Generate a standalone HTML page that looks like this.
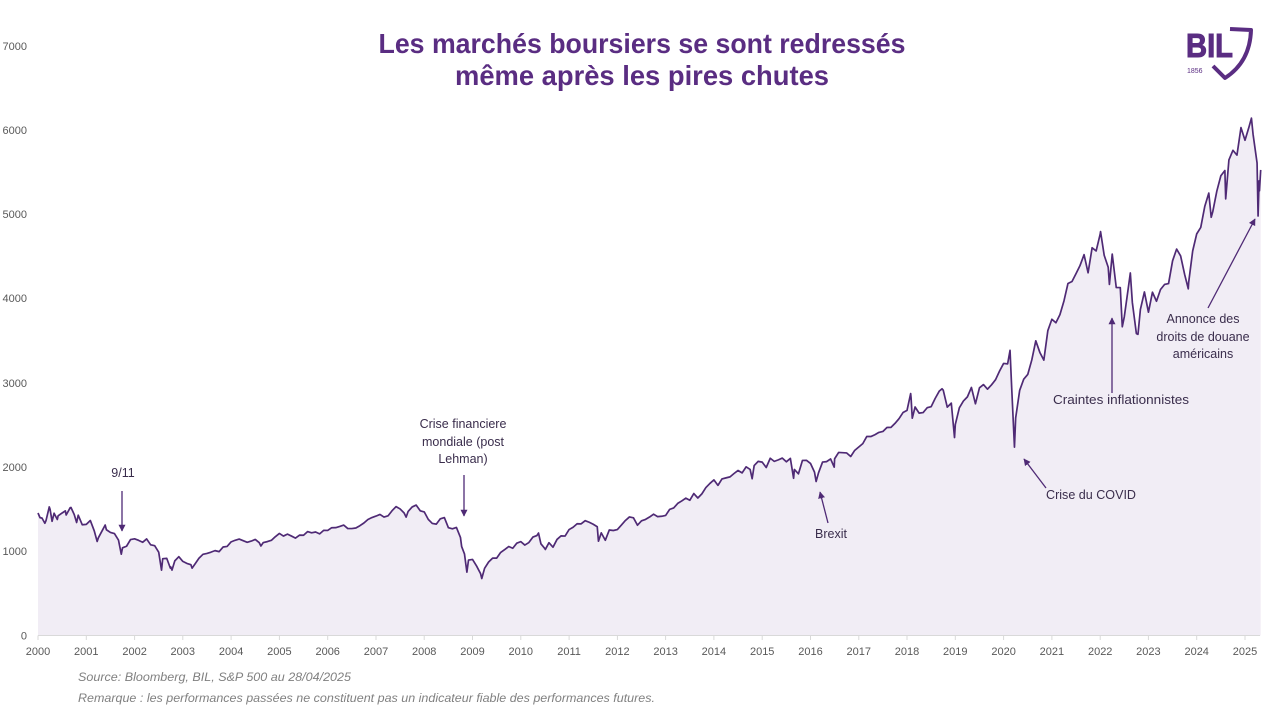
<!DOCTYPE html>
<html>
<head>
<meta charset="utf-8">
<style>
html,body{margin:0;padding:0;background:#fff;}
svg{display:block;}
</style>
</head>
<body>
<svg width="1280" height="711" viewBox="0 0 1280 711" xmlns="http://www.w3.org/2000/svg">
<rect width="1280" height="711" fill="#ffffff"/>

<!-- Title -->
<g font-family="'Liberation Sans', sans-serif" font-weight="bold" font-size="28" fill="#5a2d82" text-anchor="middle">
<text x="642" y="53" textLength="527" lengthAdjust="spacingAndGlyphs">Les marchés boursiers se sont redressés</text>
<text x="642" y="85" textLength="374" lengthAdjust="spacingAndGlyphs">même après les pires chutes</text>
</g>

<!-- Logo -->
<g>
<text x="1186" y="57" font-family="'Liberation Sans', sans-serif" font-weight="bold" font-size="33" fill="#5a2d82" stroke="#5a2d82" stroke-width="1" textLength="47" lengthAdjust="spacingAndGlyphs">BIL</text>
<text x="1187" y="73" font-family="'Liberation Sans', sans-serif" font-size="7" fill="#5a2d82">1856</text>
<path d="M1230,29 L1251,30 Q1250,62 1225,78 L1213,66" fill="none" stroke="#5a2d82" stroke-width="4" stroke-linejoin="round"/>
</g>

<!-- Y axis labels -->
<g font-family="'Liberation Sans', sans-serif" font-size="11" fill="#595959" text-anchor="end">
<text x="27" y="639.5">0</text>
<text x="27" y="555">1000</text>
<text x="27" y="471">2000</text>
<text x="27" y="387">3000</text>
<text x="27" y="302">4000</text>
<text x="27" y="218">5000</text>
<text x="27" y="134">6000</text>
<text x="27" y="50">7000</text>
</g>

<!-- Series -->
<g transform="translate(38,635.5) scale(4.02333,-0.0842)">
<polygon fill="#f1edf5" stroke="none" points="0,1455 0.5,1400 1,1394 1.7,1333 2,1366 2.8,1527 3,1499 3.5,1356 4,1452 4.8,1378 5,1421 6,1455 6.8,1480 7,1431 8,1518 8.2,1520 9,1437 9.6,1342 10,1429 11,1315 12,1320 13,1366 14,1240 14.7,1117 15,1160 16,1249 16.7,1312 17,1256 18,1224 19,1211 20,1134 20.7,966 21,1041 22,1060 23,1139 24,1148 25,1130 26,1107 27,1147 28,1077 29,1067 30,990 30.7,776 31,912 32,916 32.9,800 33,815 33.3,777 34,886 35,936 36,880 37,856 38,841 38.3,800 39,848 40,917 41,964 42,975 43,990 44,1008 45,996 46,1051 47,1058 48,1112 49,1131 50,1145 51,1126 52,1107 53,1121 54,1141 55,1102 55.4,1063 56,1104 57,1115 58,1130 59,1174 60,1212 61,1181 62,1204 63,1181 64,1157 65,1192 66,1191 67,1234 68,1220 69,1229 70,1207 71,1249 72,1248 73,1280 74,1281 75,1295 76,1311 77,1270 78,1270 79,1277 80,1304 81,1336 82,1378 83,1401 84,1418 85,1438 86,1407 87,1421 88,1482 89,1531 90,1503 91,1455 91.5,1406 92,1474 93,1527 94,1549 95,1481 96,1468 97,1379 98,1331 99,1323 100,1386 101,1400 102,1280 103,1267 104,1283 105,1165 105.3,1056 106,969 106.6,752 107,896 108,903 109,826 110,735 110.3,677 111,798 112,873 113,919 114,919 115,987 116,1021 117,1057 118,1036 119,1096 120,1115 121,1074 122,1104 123,1169 124,1187 124.4,1217 125,1089 126,1031 126.1,1022 127,1102 128,1049 129,1141 130,1183 131,1181 132,1258 133,1286 134,1327 135,1326 136,1364 137,1345 138,1321 139,1292 139.3,1120 140,1219 141,1131 142,1253 143,1247 144,1258 145,1312 146,1366 147,1408 148,1398 149,1310 150,1362 151,1379 152,1407 153,1441 154,1412 155,1416 156,1426 157,1498 158,1515 159,1569 160,1598 161,1631 162,1606 163,1686 164,1633 165,1682 166,1757 167,1806 168,1848 169,1783 170,1859 171,1872 172,1884 173,1924 174,1960 175,1931 176,2003 177,1972 177.5,1862 178,2018 179,2068 180,2059 181,1995 182,2105 183,2068 184,2086 185,2107 186,2063 187,2104 187.8,1867 188,1972 189,1920 190,2079 191,2080 192,2044 193,1940 193.4,1829 194,1932 195,2060 196,2065 197,2097 197.9,2000 198,2099 199,2174 200,2171 201,2168 202,2126 203,2199 204,2239 205,2279 206,2364 207,2363 208,2384 209,2412 210,2423 211,2470 212,2472 213,2519 214,2575 215,2648 216,2674 216.9,2873 217,2824 217.3,2581 218,2714 219,2641 220,2648 221,2705 222,2718 223,2816 224,2902 224.7,2930 225,2914 226,2712 227,2760 227.8,2351 228,2507 229,2704 230,2784 231,2834 232,2946 233,2752 234,2942 235,2980 236,2926 237,2977 238,3038 239,3141 240,3231 241,3226 241.6,3386 242,2954 242.7,2237 243,2585 244,2912 245,3044 246,3100 247,3271 248,3500 249,3363 250,3270 251,3622 252,3756 253,3714 254,3811 255,3973 256,4181 257,4204 258,4298 259,4395 260,4523 261,4308 262,4605 263,4567 264,4766 264.1,4797 265,4516 266,4374 266.3,4170 267,4530 268,4132 269,4132 269.5,3667 270,3785 271,4130 271.5,4305 272,3955 273,3586 273.4,3577 274,3872 275,4080 276,3840 277,4077 278,3970 279,4109 280,4169 281,4180 282,4450 283,4589 284,4508 285,4288 285.9,4117 286,4194 287,4568 288,4770 289,4846 290,5096 291,5254 291.6,4967 292,5036 293,5278 294,5460 295,5522 295.2,5186 296,5648 297,5762 298,5705 299,6032 300,5882 301,6041 301.6,6144 302,5955 303,5612 303.25,4982 303.5,5400 303.6,5282 303.9,5529 303.9,0 0,0"/>
<polyline fill="none" stroke="#4f2a75" stroke-width="1.7" vector-effect="non-scaling-stroke" stroke-linejoin="round" points="0,1455 0.5,1400 1,1394 1.7,1333 2,1366 2.8,1527 3,1499 3.5,1356 4,1452 4.8,1378 5,1421 6,1455 6.8,1480 7,1431 8,1518 8.2,1520 9,1437 9.6,1342 10,1429 11,1315 12,1320 13,1366 14,1240 14.7,1117 15,1160 16,1249 16.7,1312 17,1256 18,1224 19,1211 20,1134 20.7,966 21,1041 22,1060 23,1139 24,1148 25,1130 26,1107 27,1147 28,1077 29,1067 30,990 30.7,776 31,912 32,916 32.9,800 33,815 33.3,777 34,886 35,936 36,880 37,856 38,841 38.3,800 39,848 40,917 41,964 42,975 43,990 44,1008 45,996 46,1051 47,1058 48,1112 49,1131 50,1145 51,1126 52,1107 53,1121 54,1141 55,1102 55.4,1063 56,1104 57,1115 58,1130 59,1174 60,1212 61,1181 62,1204 63,1181 64,1157 65,1192 66,1191 67,1234 68,1220 69,1229 70,1207 71,1249 72,1248 73,1280 74,1281 75,1295 76,1311 77,1270 78,1270 79,1277 80,1304 81,1336 82,1378 83,1401 84,1418 85,1438 86,1407 87,1421 88,1482 89,1531 90,1503 91,1455 91.5,1406 92,1474 93,1527 94,1549 95,1481 96,1468 97,1379 98,1331 99,1323 100,1386 101,1400 102,1280 103,1267 104,1283 105,1165 105.3,1056 106,969 106.6,752 107,896 108,903 109,826 110,735 110.3,677 111,798 112,873 113,919 114,919 115,987 116,1021 117,1057 118,1036 119,1096 120,1115 121,1074 122,1104 123,1169 124,1187 124.4,1217 125,1089 126,1031 126.1,1022 127,1102 128,1049 129,1141 130,1183 131,1181 132,1258 133,1286 134,1327 135,1326 136,1364 137,1345 138,1321 139,1292 139.3,1120 140,1219 141,1131 142,1253 143,1247 144,1258 145,1312 146,1366 147,1408 148,1398 149,1310 150,1362 151,1379 152,1407 153,1441 154,1412 155,1416 156,1426 157,1498 158,1515 159,1569 160,1598 161,1631 162,1606 163,1686 164,1633 165,1682 166,1757 167,1806 168,1848 169,1783 170,1859 171,1872 172,1884 173,1924 174,1960 175,1931 176,2003 177,1972 177.5,1862 178,2018 179,2068 180,2059 181,1995 182,2105 183,2068 184,2086 185,2107 186,2063 187,2104 187.8,1867 188,1972 189,1920 190,2079 191,2080 192,2044 193,1940 193.4,1829 194,1932 195,2060 196,2065 197,2097 197.9,2000 198,2099 199,2174 200,2171 201,2168 202,2126 203,2199 204,2239 205,2279 206,2364 207,2363 208,2384 209,2412 210,2423 211,2470 212,2472 213,2519 214,2575 215,2648 216,2674 216.9,2873 217,2824 217.3,2581 218,2714 219,2641 220,2648 221,2705 222,2718 223,2816 224,2902 224.7,2930 225,2914 226,2712 227,2760 227.8,2351 228,2507 229,2704 230,2784 231,2834 232,2946 233,2752 234,2942 235,2980 236,2926 237,2977 238,3038 239,3141 240,3231 241,3226 241.6,3386 242,2954 242.7,2237 243,2585 244,2912 245,3044 246,3100 247,3271 248,3500 249,3363 250,3270 251,3622 252,3756 253,3714 254,3811 255,3973 256,4181 257,4204 258,4298 259,4395 260,4523 261,4308 262,4605 263,4567 264,4766 264.1,4797 265,4516 266,4374 266.3,4170 267,4530 268,4132 269,4132 269.5,3667 270,3785 271,4130 271.5,4305 272,3955 273,3586 273.4,3577 274,3872 275,4080 276,3840 277,4077 278,3970 279,4109 280,4169 281,4180 282,4450 283,4589 284,4508 285,4288 285.9,4117 286,4194 287,4568 288,4770 289,4846 290,5096 291,5254 291.6,4967 292,5036 293,5278 294,5460 295,5522 295.2,5186 296,5648 297,5762 298,5705 299,6032 300,5882 301,6041 301.6,6144 302,5955 303,5612 303.25,4982 303.5,5400 303.6,5282 303.9,5529"/>
</g>

<!-- X axis -->
<line x1="38" y1="635.5" x2="1260" y2="635.5" stroke="#d9d9d9" stroke-width="1"/>
<g stroke="#d9d9d9" stroke-width="1">
<line x1="38" y1="635.5" x2="38" y2="640"/>
<line x1="86.3" y1="635.5" x2="86.3" y2="640"/>
<line x1="134.6" y1="635.5" x2="134.6" y2="640"/>
<line x1="182.8" y1="635.5" x2="182.8" y2="640"/>
<line x1="231.1" y1="635.5" x2="231.1" y2="640"/>
<line x1="279.4" y1="635.5" x2="279.4" y2="640"/>
<line x1="327.7" y1="635.5" x2="327.7" y2="640"/>
<line x1="376" y1="635.5" x2="376" y2="640"/>
<line x1="424.2" y1="635.5" x2="424.2" y2="640"/>
<line x1="472.5" y1="635.5" x2="472.5" y2="640"/>
<line x1="520.8" y1="635.5" x2="520.8" y2="640"/>
<line x1="569.1" y1="635.5" x2="569.1" y2="640"/>
<line x1="617.4" y1="635.5" x2="617.4" y2="640"/>
<line x1="665.6" y1="635.5" x2="665.6" y2="640"/>
<line x1="713.9" y1="635.5" x2="713.9" y2="640"/>
<line x1="762.2" y1="635.5" x2="762.2" y2="640"/>
<line x1="810.5" y1="635.5" x2="810.5" y2="640"/>
<line x1="858.8" y1="635.5" x2="858.8" y2="640"/>
<line x1="907" y1="635.5" x2="907" y2="640"/>
<line x1="955.3" y1="635.5" x2="955.3" y2="640"/>
<line x1="1003.6" y1="635.5" x2="1003.6" y2="640"/>
<line x1="1051.9" y1="635.5" x2="1051.9" y2="640"/>
<line x1="1100.2" y1="635.5" x2="1100.2" y2="640"/>
<line x1="1148.4" y1="635.5" x2="1148.4" y2="640"/>
<line x1="1196.7" y1="635.5" x2="1196.7" y2="640"/>
<line x1="1245" y1="635.5" x2="1245" y2="640"/>
</g>
<g font-family="'Liberation Sans', sans-serif" font-size="11" fill="#595959" text-anchor="middle">
<text x="38" y="655">2000</text>
<text x="86.3" y="655">2001</text>
<text x="134.6" y="655">2002</text>
<text x="182.8" y="655">2003</text>
<text x="231.1" y="655">2004</text>
<text x="279.4" y="655">2005</text>
<text x="327.7" y="655">2006</text>
<text x="376" y="655">2007</text>
<text x="424.2" y="655">2008</text>
<text x="472.5" y="655">2009</text>
<text x="520.8" y="655">2010</text>
<text x="569.1" y="655">2011</text>
<text x="617.4" y="655">2012</text>
<text x="665.6" y="655">2013</text>
<text x="713.9" y="655">2014</text>
<text x="762.2" y="655">2015</text>
<text x="810.5" y="655">2016</text>
<text x="858.8" y="655">2017</text>
<text x="907" y="655">2018</text>
<text x="955.3" y="655">2019</text>
<text x="1003.6" y="655">2020</text>
<text x="1051.9" y="655">2021</text>
<text x="1100.2" y="655">2022</text>
<text x="1148.4" y="655">2023</text>
<text x="1196.7" y="655">2024</text>
<text x="1245" y="655">2025</text>
</g>

<!-- Annotations -->
<defs>
<marker id="ah" viewBox="0 0 10 10" refX="9" refY="5" markerWidth="7" markerHeight="7" markerUnits="userSpaceOnUse" orient="auto">
<path d="M0,0 L10,5 L0,10 z" fill="#4f2a75"/>
</marker>
</defs>
<g stroke="#4f2a75" stroke-width="1.3" fill="none">
<line x1="122" y1="491" x2="122" y2="531" marker-end="url(#ah)"/>
<line x1="464" y1="475" x2="464" y2="516" marker-end="url(#ah)"/>
<line x1="828" y1="523" x2="820" y2="492" marker-end="url(#ah)"/>
<line x1="1046" y1="488" x2="1024" y2="459" marker-end="url(#ah)"/>
<line x1="1112" y1="393" x2="1112" y2="318" marker-end="url(#ah)"/>
<line x1="1208" y1="308" x2="1255" y2="219" marker-end="url(#ah)"/>
</g>
<g font-family="'Liberation Sans', sans-serif" font-size="12.5" fill="#3a2d4c" text-anchor="middle">
<text x="123" y="477">9/11</text>
<text x="463" y="428">Crise financiere</text>
<text x="463" y="446">mondiale (post</text>
<text x="463" y="463">Lehman)</text>
<text x="831" y="538">Brexit</text>
<text x="1091" y="499" textLength="90" lengthAdjust="spacingAndGlyphs">Crise du COVID</text>
<text x="1121" y="404" textLength="136" lengthAdjust="spacingAndGlyphs">Craintes inflationnistes</text>
<text x="1203" y="323">Annonce des</text>
<text x="1203" y="341">droits de douane</text>
<text x="1203" y="358">américains</text>
</g>

<!-- Footnotes -->
<g font-family="'Liberation Sans', sans-serif" font-size="11.5" font-style="italic" fill="#808080">
<text x="78" y="681" textLength="273" lengthAdjust="spacingAndGlyphs">Source: Bloomberg, BIL, S&amp;P 500 au 28/04/2025</text>
<text x="78" y="702" textLength="577" lengthAdjust="spacingAndGlyphs">Remarque : les performances passées ne constituent pas un indicateur fiable des performances futures.</text>
</g>
</svg>
</body>
</html>
